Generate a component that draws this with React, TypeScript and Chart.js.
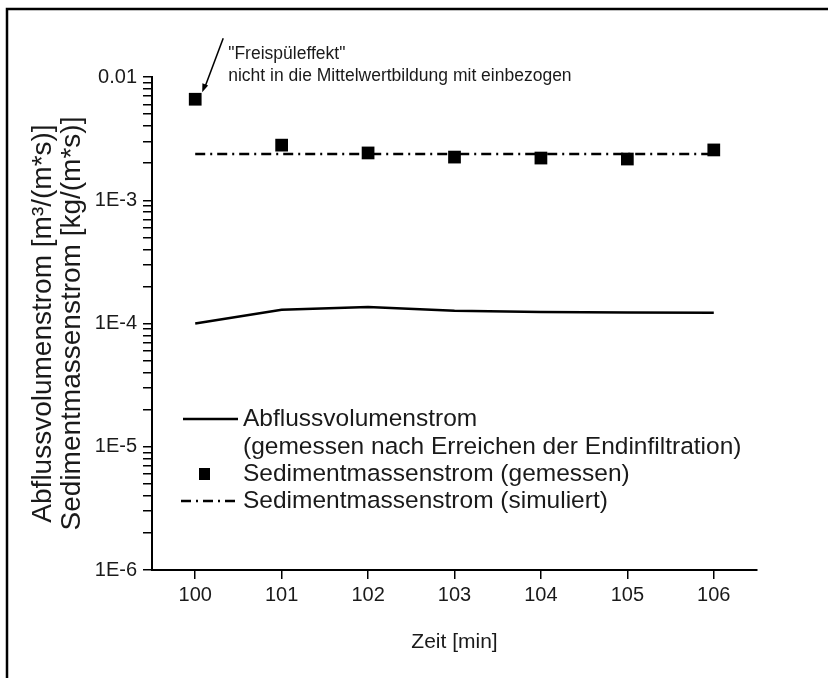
import React, { useEffect, useRef } from 'react';
import { Chart, registerables } from 'chart.js';

Chart.register(...registerables);

// ---- data ----
const minutes = [100, 101, 102, 103, 104, 105, 106];
const abflussVolumenstrom = [1.0e-4, 1.29e-4, 1.36e-4, 1.27e-4, 1.24e-4, 1.23e-4, 1.22e-4];
const sedimentGemessen = [0.0066, 0.0028, 0.00242, 0.00224, 0.0022, 0.00216, 0.00256];
const sedimentSimuliert = [0.00237, 0.00237, 0.00237, 0.00237, 0.00237, 0.00237, 0.00237];

const xTickValues = [100, 101, 102, 103, 104, 105, 106];
const yDecades = [1e-6, 1e-5, 1e-4, 1e-3, 1e-2];
const yDecadeLabels = ['1E-6', '1E-5', '1E-4', '1E-3', '0.01'];
const yMinorMultipliers = [2, 3, 4, 5, 6, 7, 8, 9];

const legendLabels = [
  ['Abflussvolumenstrom', '(gemessen nach Erreichen der Endinfiltration)'],
  ['Sedimentmassenstrom (gemessen)'],
  ['Sedimentmassenstrom (simuliert)'],
];
const annotationLines = ['"Freispüleffekt"', 'nicht in die Mittelwertbildung mit einbezogen'];
const yTitle = ['Abflussvolumenstrom [m³/(m*s)]', 'Sedimentmassenstrom [kg/(m*s)]'];
const xTitle = 'Zeit [min]';

const FONT = '"Liberation Sans", Arial, sans-serif';
const TEXT = '#1a1a1a';

const framePlugin = {
  id: 'frame',
  beforeDraw(chart: any) {
    const ctx = chart.ctx;
    ctx.save();
    ctx.fillStyle = '#ffffff';
    ctx.fillRect(0, 0, chart.width, chart.height);
    ctx.strokeStyle = '#000';
    ctx.lineWidth = 2.5;
    ctx.beginPath();
    ctx.moveTo(7, chart.height);
    ctx.lineTo(7, 9);
    ctx.lineTo(chart.width, 9);
    ctx.stroke();
    ctx.restore();
  },
};

const overlayPlugin = {
  id: 'overlay',
  afterDraw(chart: any) {
    const ctx = chart.ctx;
    const xs = chart.scales.x;
    const ys = chart.scales.y;
    ctx.save();
    // annotation text
    ctx.fillStyle = TEXT;
    ctx.font = `17.5px ${FONT}`;
    ctx.textBaseline = 'middle';
    ctx.textAlign = 'left';
    const ax = xs.getPixelForValue(minutes[0]) + 33;
    const ay = ys.getPixelForValue(sedimentGemessen[0]);
    ctx.fillText(annotationLines[0], ax, ay - 45);
    ctx.fillText(annotationLines[1], ax, ay - 23);
    // arrow
    const x1 = ax - 5, y1 = ay - 61;
    const x2 = xs.getPixelForValue(minutes[0]) + 7, y2 = ay - 7;
    ctx.strokeStyle = '#000';
    ctx.lineWidth = 1.5;
    ctx.beginPath();
    ctx.moveTo(x1, y1);
    ctx.lineTo(x2 + 3, y2 - 6);
    ctx.stroke();
    const ang = Math.atan2(y2 - y1, x2 - x1);
    ctx.fillStyle = '#000';
    ctx.beginPath();
    ctx.moveTo(x2, y2);
    ctx.lineTo(x2 - 9 * Math.cos(ang - 0.35), y2 - 9 * Math.sin(ang - 0.35));
    ctx.lineTo(x2 - 9 * Math.cos(ang + 0.35), y2 - 9 * Math.sin(ang + 0.35));
    ctx.closePath();
    ctx.fill();

    // legend
    const lx0 = 183, lx1 = 238, tx = 243;
    const rows = [419, 447, 474, 501];
    ctx.font = `24.5px ${FONT}`;
    ctx.fillStyle = TEXT;
    ctx.textAlign = 'left';
    ctx.textBaseline = 'middle';
    const ds = chart.data.datasets;
    // row 1: solid line
    ctx.strokeStyle = ds[0].borderColor;
    ctx.lineWidth = ds[0].borderWidth;
    ctx.setLineDash([]);
    ctx.beginPath();
    ctx.moveTo(lx0, rows[0]);
    ctx.lineTo(lx1, rows[0]);
    ctx.stroke();
    ctx.fillText(legendLabels[0][0], tx, rows[0]);
    ctx.fillText(legendLabels[0][1], tx, rows[1]);
    // row 3: square
    ctx.fillStyle = ds[1].backgroundColor;
    ctx.fillRect(199, rows[2] - 6, 11, 12);
    ctx.fillStyle = TEXT;
    ctx.fillText(legendLabels[1][0], tx, rows[2]);
    // row 4: dash-dot
    ctx.strokeStyle = ds[2].borderColor;
    ctx.lineWidth = ds[2].borderWidth;
    ctx.setLineDash(ds[2].borderDash);
    ctx.beginPath();
    ctx.moveTo(181, rows[3]);
    ctx.lineTo(lx1, rows[3]);
    ctx.stroke();
    ctx.setLineDash([]);
    ctx.fillText(legendLabels[2][0], tx, rows[3]);
    ctx.restore();
  },
};

function isDecade(v: number) {
  const l = Math.log10(v);
  return Math.abs(l - Math.round(l)) < 1e-9;
}

export default function App() {
  const ref = useRef<HTMLCanvasElement | null>(null);
  useEffect(() => {
    document.body.style.margin = '0';
    const canvas = ref.current!;
    const chart = new Chart(canvas, {
      type: 'line',
      data: {
        datasets: [
          {
            label: legendLabels[0][0],
            data: minutes.map((m, i) => ({ x: m, y: abflussVolumenstrom[i] })),
            borderColor: '#000',
            backgroundColor: '#000',
            borderWidth: 2.5,
            pointRadius: 0,
            tension: 0,
            order: 2,
          },
          {
            label: legendLabels[1][0],
            data: minutes.map((m, i) => ({ x: m, y: sedimentGemessen[i] })),
            showLine: false,
            pointStyle: 'rect',
            pointRadius: 9,
            pointBorderWidth: 0,
            backgroundColor: '#000',
            borderColor: '#000',
            order: 0,
          },
          {
            label: legendLabels[2][0],
            data: minutes.map((m, i) => ({ x: m, y: sedimentSimuliert[i] })),
            borderColor: '#000',
            backgroundColor: '#000',
            borderWidth: 2.5,
            borderDash: [10, 5, 2, 5],
            pointRadius: 0,
            order: 1,
          },
        ],
      },
      options: {
        animation: false,
        responsive: false,
        devicePixelRatio: 1,
        layout: { padding: { top: 77, right: 71, left: 0, bottom: 0 } },
        plugins: { legend: { display: false }, tooltip: { enabled: false } },
        scales: {
          x: {
            type: 'linear',
            min: 99.5,
            max: 106.5,
            afterBuildTicks: (s: any) => {
              s.ticks = xTickValues.map((v) => ({ value: v }));
            },
            afterFit: (s: any) => {
              s.height = 108;
            },
            grid: { drawOnChartArea: false, drawTicks: true, tickLength: 9, color: '#000', lineWidth: 1.5 },
            border: { display: true, color: '#000', width: 2 },
            ticks: { font: { family: FONT, size: 20 }, color: TEXT, padding: 4, autoSkip: false, maxRotation: 0 },
            title: { display: true, text: xTitle, font: { family: FONT, size: 21 }, color: TEXT, padding: { top: 0, bottom: 23 } },
          },
          y: {
            type: 'logarithmic',
            min: 1e-6,
            max: 1e-2,
            afterBuildTicks: (s: any) => {
              const t: any[] = [];
              yDecades.forEach((d, i) => {
                t.push({ value: d, major: true });
                if (i < yDecades.length - 1) yMinorMultipliers.forEach((m) => t.push({ value: m * d, major: false }));
              });
              s.ticks = t;
            },
            afterFit: (s: any) => {
              s.width = 152;
            },
            grid: { drawOnChartArea: false, drawTicks: true, tickLength: 9, color: '#000', lineWidth: 1.5 },
            border: { display: true, color: '#000', width: 2 },
            ticks: {
              font: { family: FONT, size: 20 },
              color: TEXT,
              padding: 6,
              autoSkip: false,
              callback: (v: any) => {
                const val = Number(v);
                if (!isDecade(val)) return '';
                const idx = yDecades.findIndex((d) => Math.abs(Math.log10(d) - Math.log10(val)) < 1e-9);
                return idx >= 0 ? yDecadeLabels[idx] : '';
              },
            },
            title: {
              display: true,
              text: yTitle,
              font: { family: FONT, size: 28, lineHeight: 1.04 },
              color: TEXT,
              padding: { top: 29, bottom: 0 },
            },
          },
        },
      },
      plugins: [framePlugin, overlayPlugin],
    });
    return () => chart.destroy();
  }, []);
  return <canvas ref={ref} width={828} height={678} style={{ display: 'block' }} />;
}
